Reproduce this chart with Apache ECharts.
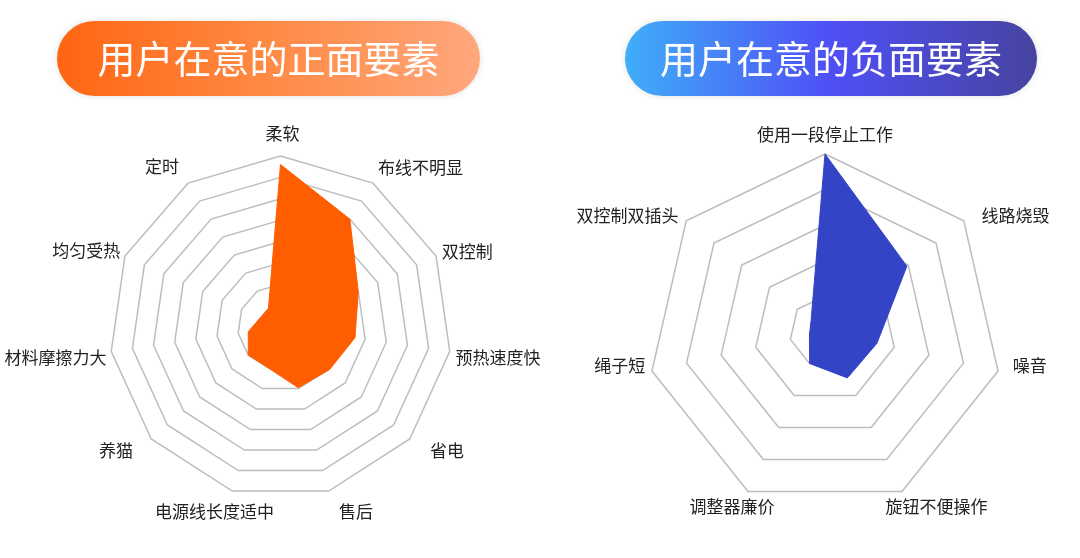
<!DOCTYPE html>
<html>
<head>
<meta charset="utf-8">
<script src="https://cdn.jsdelivr.net/npm/echarts@6/dist/echarts.min.js"></script>
<style>
html,body{margin:0;padding:0;background:#fff;}
#main{width:1080px;height:558px;}
</style>
</head>
<body>
<div id="main"></div>
<script>
// Titles
var leftTitle = '用户在意的正面要素';
var rightTitle = '用户在意的负面要素';

// Positive factors (clockwise from top) and values (max 100)
var posCategories = ['柔软', '布线不明显', '双控制', '预热速度快', '省电', '售后', '电源线长度适中', '养猫', '材料摩擦力大', '均匀受热', '定时'];
var posValues = [95, 75, 50, 44, 38, 37, 25, 25, 19, 13, 13];

// Negative factors (clockwise from top) and values (max 100)
var negCategories = ['使用一段停止工作', '线路烧毁', '噪音', '旋钮不便操作', '调整器廉价', '绳子短', '双控制双插头'];
var negValues = [100, 59, 30, 29, 20, 9, 10];

var maxValue = 100;

// Label nudges (style only): [dx, dy] in px, clockwise order
var posLabelNudge = [[2, 1], [-3, -3], [-8, 2], [-9, 4], [9, 2], [6, 6], [46, 6], [-7, 2], [10, 4], [9, 1], [-1, -4]];
var negLabelNudge = [[0, 4], [6, 4], [0, -9], [-23, 2], [33, 2], [8, -9], [4, 4]];

// ECharts lays indicators counter-clockwise; reorder to show clockwise
function ccw(arr) { return [arr[0]].concat(arr.slice(1).reverse()); }

var FONT = "'Noto Sans CJK SC', 'Noto Sans', sans-serif";

var chart = echarts.init(document.getElementById('main'), null, {renderer: 'canvas'});

function radarCfg(prefix, cats, nudges, center, radius, split) {
  var rich = {};
  var keyOf = {};
  cats.forEach(function (c, i) {
    var d = nudges[i];
    var key = prefix + i;
    keyOf[c] = key;
    rich[key] = {
      color: '#222',
      fontSize: 17,
      fontFamily: FONT,
      padding: [d[1], -d[0], -d[1], d[0]]
    };
  });
  return {
    center: center,
    radius: radius,
    startAngle: 90,
    splitNumber: split,
    shape: 'polygon',
    indicator: ccw(cats).map(function (c) { return {name: c, max: maxValue}; }),
    axisName: {
      color: '#222', fontSize: 17, fontFamily: FONT,
      formatter: function (name) { return '{' + keyOf[name] + '|' + name + '}'; },
      rich: rich
    },
    nameGap: 15,
    axisLine: {show: false},
    splitArea: {show: false},
    splitLine: {lineStyle: {color: '#bdbdbd', width: 1.5}}
  };
}

function pill(x, y, w, h, stops, text) {
  return {
    type: 'group',
    children: [
      {
        type: 'rect',
        shape: {x: x, y: y, width: w, height: h, r: h / 2},
        style: {
          fill: new echarts.graphic.LinearGradient(0, 0, 1, 0, stops),
          shadowBlur: 6,
          shadowColor: 'rgba(0,0,0,0.12)'
        }
      },
      {
        type: 'text',
        x: x + w / 2,
        y: y + h / 2,
        style: {
          text: text,
          fill: '#fff',
          fontSize: 38,
          fontFamily: FONT,
          align: 'center',
          verticalAlign: 'middle'
        }
      }
    ]
  };
}

chart.setOption({
  backgroundColor: '#fff',
  animation: false,
  graphic: [
    pill(57, 21, 423, 75, [
      {offset: 0, color: '#FF6512'},
      {offset: 0.5, color: '#FF8A45'},
      {offset: 1, color: '#FFA77C'}
    ], leftTitle),
    pill(625, 21, 412, 75, [
      {offset: 0, color: '#3FAEF8'},
      {offset: 0.5, color: '#4F4FF6'},
      {offset: 1, color: '#46449F'}
    ], rightTitle)
  ],
  radar: [
    radarCfg('p', posCategories, posLabelNudge, [280.5, 327], 171, 8),
    radarCfg('n', negCategories, negLabelNudge, [825, 331.5], 177.5, 5)
  ],
  series: [
    {
      type: 'radar',
      radarIndex: 0,
      symbol: 'none',
      lineStyle: {color: '#FF5E00', width: 1},
      areaStyle: {color: '#FF5E00', opacity: 1},
      data: [{value: ccw(posValues), name: leftTitle}]
    },
    {
      type: 'radar',
      radarIndex: 1,
      symbol: 'none',
      lineStyle: {color: '#3444C6', width: 1},
      areaStyle: {color: '#3444C6', opacity: 1},
      data: [{value: ccw(negValues), name: rightTitle}]
    }
  ]
});
</script>
</body>
</html>
